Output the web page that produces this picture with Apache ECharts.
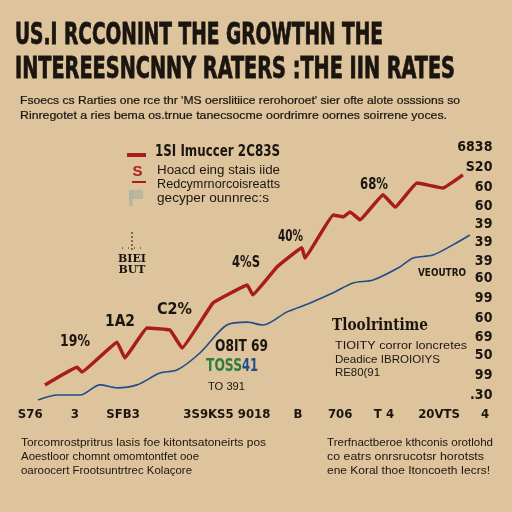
<!DOCTYPE html>
<html><head><meta charset="utf-8">
<script src="https://cdn.jsdelivr.net/npm/echarts@6/dist/echarts.min.js"></script>
<style>html,body{margin:0;padding:0;background:#DDC49C}#c{width:512px;height:512px}</style>
</head><body><div id="c"></div>
<script>
// ---- data ----
const redSeries = [[1.6,4.6],[9.0,10.0],[10.1,8.5],[18.2,17.6],[20.0,12.8],[25.1,21.9],[30.4,21.3],[33.2,15.8],[40.3,29.5],[44.9,32.9],[48.2,35.0],[49.5,32.0],[55.1,40.5],[60.8,46.3],[61.5,43.2],[68.0,56.3],[70.3,55.7],[71.9,57.2],[74.2,54.8],[79.5,62.4],[82.3,58.7],[87.3,66.0],[93.3,64.5],[97.9,68.5]];
const blueSeries = [[0,0],[4.6,1.5],[9.7,1.5],[14.3,4.6],[18.2,3.7],[22.8,4.6],[28.1,8.2],[32.0,9.1],[37.3,14.3],[43.5,22.8],[48.2,23.7],[51.8,22.8],[57.4,26.8],[62.7,29.5],[68.0,32.6],[72.6,35.6],[77.2,36.5],[83.4,40.5],[86.4,43.2],[91.0,44.1],[95.6,47.2],[99.5,50.2]];
const xTickValues = [-1.8, 8.5, 19.6, 43.5, 59.9, 69.6, 79.7, 92.4, 103];
const xTickLabels = ['S76','3','SFB3','3S9KS5 9018','B','706','T 4','20VTS','4'];
const yTickValues = [76.7,70.9,64.8,59.0,53.5,48.1,42.3,37.1,31.0,24.9,19.2,13.7,7.6,1.5];
const yTickLabels = ['6838','S20','60','60','39','39','39','60','99','60','69','50','99','.30'];
const titleLines = ['US.I RCCONINT THE GROWTHN THE','INTEREESNCNNY RATERS :THE IIN RATES'];
const subtitleLines = ["Fsoecs cs Rarties one rce thr 'MS oerslitiice rerohoroet' sier ofte alote osssions so","Rinregotet a ries bema os.trnue tanecsocme oordrimre oornes soirrene yoces."];
const legendTitle = '1SI Imuccer 2C83S';
const legendLines = ['Hoacd eing stais iide','Redcymrnorcoisreatts','gecyper ounnrec:s'];
const pctLabels = ['19%','1A2','C2%','4%S','40%','68%'];
const noteTitle = 'Tloolrintime';
const noteLines = ['TIOITY corror loncretes','Deadice IBROIOIYS','RE80(91'];
const bottomLeft = ['Torcomrostpritrus lasis foe kitontsatoneirts pos','Aoestloor chomnt omomtontfet ooe','oaroocert Frootsuntrtrec Kolaçore'];
const bottomRight = ['Trerfnactberoe kthconis orotlohd','co eatrs onrsrucotsr horotsts','ene Koral thoe Itoncoeth Iecrs!'];

const INK = '#1b1510', RED = '#a81d1c', BLUE = '#1f4c8a', GREEN = '#2e7d3a';
const NARROW = '"Liberation Sans Narrow","DejaVu Sans Condensed",sans-serif';
const SANS = '"Liberation Sans","DejaVu Sans",sans-serif';
const SERIF = '"DejaVu Serif",serif';

const mctx = document.createElement('canvas').getContext('2d');
// text fitted to a target width
function txt(text, x, y, size, o) {
  o = o || {};
  const font = (o.w||'normal')+' '+size+'px '+(o.f||SANS);
  let sx = 1;
  if (o.fit) { mctx.font = font; sx = o.fit / mctx.measureText(text).width; }
  const st = {text:text, font:font, fill:o.c||INK, textVerticalAlign:'middle', textAlign:o.a||'left'};
  if (o.stroke) { st.stroke = o.c||INK; st.lineWidth = o.stroke; }
  return {type:'text', x:x, y:y, scaleX:sx, originX:0, originY:0, style:st};
}

const g = [];
g.push(txt(titleLines[0], 15, 36, 30, {w:'bold', f:NARROW, fit:368, stroke:0.8}));
g.push(txt(titleLines[1], 15, 70, 30, {w:'bold', f:NARROW, fit:440, stroke:0.8}));
g.push(txt(subtitleLines[0], 20, 101, 10.5, {f:SANS, fit:440, stroke:0.2}));
g.push(txt(subtitleLines[1], 20, 116, 10.5, {f:SANS, fit:427, stroke:0.2}));
// legend
g.push({type:'rect', shape:{x:127,y:153,width:19,height:4}, style:{fill:RED}});
g.push(txt('S', 137.5, 172, 15, {w:'bold', c:RED, a:'center'}));
g.push({type:'rect', shape:{x:132,y:181,width:14,height:2}, style:{fill:RED}});
g.push({type:'rect', shape:{x:129,y:190,width:14,height:9}, style:{fill:'#aeb79a', opacity:0.8}});
g.push({type:'rect', shape:{x:129,y:190,width:4,height:16}, style:{fill:'#aeb79a', opacity:0.8}});
g.push(txt(legendTitle, 155, 152, 16, {w:'bold', f:NARROW, fit:125}));
const legFits = [123,123,112];
legendLines.forEach((t,i)=>g.push(txt(t, 157, 171+i*14, 12.5, {f:SANS, fit:legFits[i]})));
// small tick figure
g.push({type:'line', shape:{x1:132,y1:232,x2:132,y2:252}, style:{stroke:INK, lineWidth:1, lineDash:[2,2]}});
g.push({type:'line', shape:{x1:122,y1:248,x2:142,y2:248}, style:{stroke:INK, lineWidth:1, lineDash:[1,5]}});
g.push(txt('BIEI', 132, 259, 11, {w:'bold', a:'center', f:SERIF}));
g.push(txt('BUT', 132, 270, 11, {w:'bold', a:'center', f:SERIF}));
// percentage annotations
const pctPos = [[60,342,30],[105,322,30],[157,310,35],[232,263,28],[278,237,25],[360,185,28]];
pctLabels.forEach((t,i)=>g.push(txt(t, pctPos[i][0], pctPos[i][1], 15, {w:'bold', f:NARROW, fit:pctPos[i][2]})));
g.push(txt('O8IT 69', 215, 347, 16, {w:'bold', f:NARROW, fit:53}));
g.push(txt('TOSS', 206, 367, 17, {w:'bold', f:NARROW, c:GREEN, fit:36}));
g.push(txt('41', 242, 367, 17, {w:'bold', f:NARROW, c:BLUE, fit:16}));
g.push(txt('TO 391', 208, 387, 11, {f:SANS, fit:37}));
g.push(txt('VEOUTRO', 418, 273, 10.5, {w:'bold', f:NARROW, fit:48}));
g.push(txt(noteTitle, 332, 326, 17, {w:'bold', f:SERIF, fit:96}));
const noteFits = [132,105,45];
noteLines.forEach((t,i)=>g.push(txt(t, 335, 346+i*13.5, 11, {f:SANS, fit:noteFits[i]})));
const blFits = [245,178,171], brFits = [166,157,163];
bottomLeft.forEach((t,i)=>g.push(txt(t, 21, 443+i*14, 11, {f:SANS, fit:blFits[i]})));
bottomRight.forEach((t,i)=>g.push(txt(t, 327, 443+i*14, 11, {f:SANS, fit:brFits[i]})));

const chart = echarts.init(document.getElementById('c'), null, {renderer:'canvas'});
chart.setOption({
  backgroundColor:'#DDC49C',
  animation:false,
  grid:{left:3.3, right:22.6, top:137, bottom:112},
  xAxis:{type:'value', min:-8, max:104, splitLine:{show:false}, axisLine:{show:false}, axisTick:{show:false},
    axisLabel:{customValues:xTickValues, margin:8, color:INK, fontFamily:NARROW, fontWeight:'bold', fontSize:13,
      formatter:v=>{const i=xTickValues.indexOf(v); return i>=0?xTickLabels[i]:'';}}},
  yAxis:{type:'value', min:0, max:80, position:'right', splitLine:{show:false}, axisLine:{show:false}, axisTick:{show:false},
    axisLabel:{customValues:yTickValues, margin:3, align:'right', color:INK, fontFamily:NARROW, fontWeight:'bold', fontSize:14,
      formatter:v=>{const i=yTickValues.indexOf(v); return i>=0?yTickLabels[i]:'';}}},
  series:[
    {type:'line', data:blueSeries, smooth:0.3, symbol:'none', lineStyle:{color:BLUE, width:1.6}},
    {type:'line', data:redSeries, smooth:0.08, symbol:'none', lineStyle:{color:RED, width:3.5}}
  ],
  graphic:g
});
</script></body></html>
